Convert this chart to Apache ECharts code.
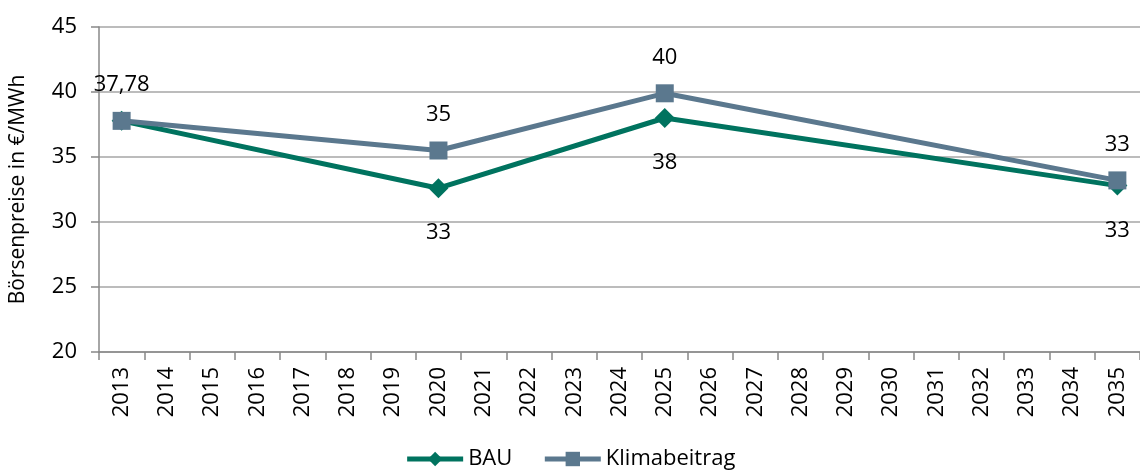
<!DOCTYPE html>
<html>
<head>
    <meta charset="UTF-8">
    <title>Börsenpreise</title>
    <script type="text/javascript" src="https://cdn.jsdelivr.net/npm/echarts@6/dist/echarts.min.js"></script>
</head>
<body style="margin: 0; background: #fff">
<div id="container" style="width: 1140px; height: 473px"></div>
<script type="text/javascript">
    const years = ['2013', '2014', '2015', '2016', '2017', '2018', '2019', '2020', '2021', '2022', '2023', '2024',
        '2025', '2026', '2027', '2028', '2029', '2030', '2031', '2032', '2033', '2034', '2035'];
    const bau = [37.78, null, null, null, null, null, null, 32.6, null, null, null, null,
        38.0, null, null, null, null, null, null, null, null, null, 32.8];
    const klima = [37.78, null, null, null, null, null, null, 35.5, null, null, null, null,
        39.9, null, null, null, null, null, null, null, null, null, 33.2];
    const bauLabels = {7: '33', 12: '38', 22: '33'};
    const klimaLabels = {0: '37,78', 7: '35', 12: '40', 22: '33'};
    const yTicks = [20, 25, 30, 35, 40, 45];

    const font = '"Open Sans", "Noto Sans", sans-serif';
    const bauColor = '#00735f';
    const klimaColor = '#5b788e';
    const myChart = echarts.init(document.getElementById('container'));

    const option = {
        animation: false,
        textStyle: {fontFamily: font},
        grid: {left: 97, right: -12, top: 27, bottom: 121},
        legend: {
            bottom: -2,
            left: 'center',
            itemWidth: 56,
            itemHeight: 18,
            itemGap: 30,
            textStyle: {fontSize: 22, color: '#000', fontFamily: font},
            data: [
                {name: 'BAU', lineStyle: {width: 5, color: bauColor}},
                {name: 'Klimabeitrag', lineStyle: {width: 5, color: klimaColor}}
            ]
        },
        xAxis: {
            type: 'category',
            data: years,
            boundaryGap: true,
            axisLine: {lineStyle: {color: '#888', width: 1.5}},
            axisTick: {show: true, length: 8, lineStyle: {color: '#888', width: 1.5}},
            axisLabel: {rotate: 90, fontSize: 22, color: '#000', margin: 15, fontFamily: font, interval: 0},
            splitLine: {show: false}
        },
        yAxis: {
            type: 'value',
            min: yTicks[0],
            max: yTicks[yTicks.length - 1],
            interval: 5,
            name: 'Börsenpreise in €/MWh',
            nameLocation: 'middle',
            nameRotate: 90,
            nameGap: 70,
            nameTextStyle: {fontSize: 21, color: '#000', fontFamily: font},
            axisLine: {show: true, lineStyle: {color: '#888', width: 1.5}},
            axisTick: {show: true, length: 8, lineStyle: {color: '#888', width: 1.5}},
            axisLabel: {fontSize: 22, color: '#000', margin: 22, fontFamily: font},
            splitLine: {lineStyle: {color: '#a6a6a6', width: 1.5}}
        },
        series: [{
            name: 'BAU',
            type: 'line',
            data: bau,
            connectNulls: true,
            symbol: 'diamond',
            symbolSize: 20,
            lineStyle: {color: bauColor, width: 5},
            itemStyle: {color: bauColor},
            z: 2,
            label: {
                show: true,
                position: 'bottom',
                distance: 24,
                fontSize: 22,
                color: '#000',
                fontFamily: font,
                formatter: p => bauLabels[p.dataIndex] || ''
            }
        }, {
            name: 'Klimabeitrag',
            type: 'line',
            data: klima,
            connectNulls: true,
            symbol: 'rect',
            symbolSize: 18,
            lineStyle: {color: klimaColor, width: 5},
            itemStyle: {color: klimaColor},
            z: 3,
            label: {
                show: true,
                position: 'top',
                distance: 16,
                fontSize: 22,
                color: '#000',
                fontFamily: font,
                formatter: p => klimaLabels[p.dataIndex] || ''
            }
        }]
    };

    myChart.setOption(option, true);
</script>
</body>
</html>
